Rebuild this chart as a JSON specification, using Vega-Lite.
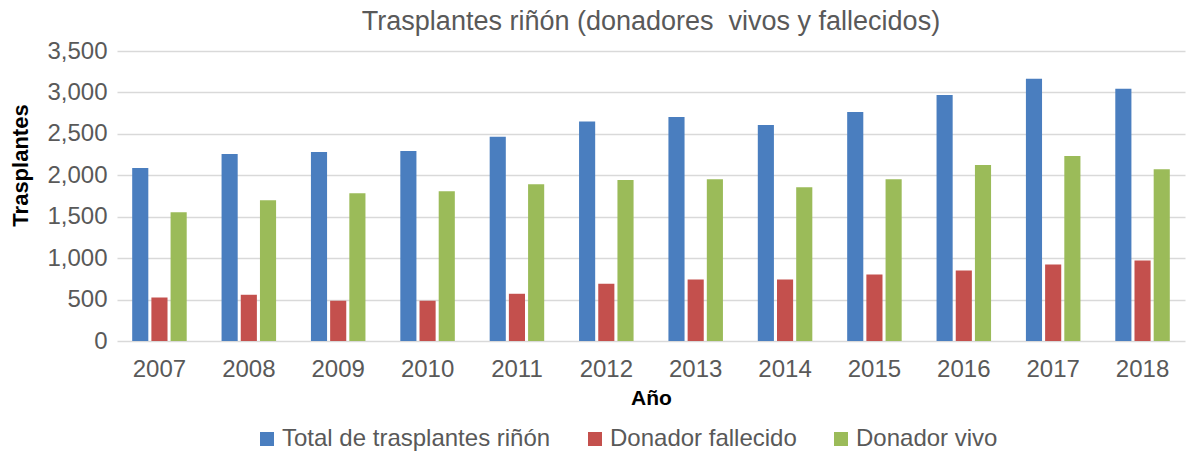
{
  "$schema": "https://vega.github.io/schema/vega-lite/v6.json",
  "width": 1068,
  "height": 290,
  "autosize": "none",
  "padding": {"left": 117, "top": 51, "right": 7, "bottom": 111},
  "background": "white",
  "title": {
    "text": "Trasplantes riñón (donadores\u00a0 vivos y fallecidos)",
    "font": "Liberation Sans",
    "fontSize": 27,
    "fontWeight": "normal",
    "color": "#595959",
    "anchor": "middle",
    "offset": 3
  },
  "config": {
    "view": {"stroke": null},
    "font": "Liberation Sans"
  },
  "data": {
    "values": [
      {"year": "2007", "serie": "Total de trasplantes riñón", "value": 2087},
      {"year": "2007", "serie": "Donador fallecido", "value": 525},
      {"year": "2007", "serie": "Donador vivo", "value": 1555},
      {"year": "2008", "serie": "Total de trasplantes riñón", "value": 2257},
      {"year": "2008", "serie": "Donador fallecido", "value": 558},
      {"year": "2008", "serie": "Donador vivo", "value": 1699},
      {"year": "2009", "serie": "Total de trasplantes riñón", "value": 2282},
      {"year": "2009", "serie": "Donador fallecido", "value": 486},
      {"year": "2009", "serie": "Donador vivo", "value": 1784},
      {"year": "2010", "serie": "Total de trasplantes riñón", "value": 2294},
      {"year": "2010", "serie": "Donador fallecido", "value": 486},
      {"year": "2010", "serie": "Donador vivo", "value": 1808},
      {"year": "2011", "serie": "Total de trasplantes riñón", "value": 2464},
      {"year": "2011", "serie": "Donador fallecido", "value": 570},
      {"year": "2011", "serie": "Donador vivo", "value": 1893},
      {"year": "2012", "serie": "Total de trasplantes riñón", "value": 2649},
      {"year": "2012", "serie": "Donador fallecido", "value": 692},
      {"year": "2012", "serie": "Donador vivo", "value": 1942},
      {"year": "2013", "serie": "Total de trasplantes riñón", "value": 2704},
      {"year": "2013", "serie": "Donador fallecido", "value": 742},
      {"year": "2013", "serie": "Donador vivo", "value": 1953},
      {"year": "2014", "serie": "Total de trasplantes riñón", "value": 2607},
      {"year": "2014", "serie": "Donador fallecido", "value": 742},
      {"year": "2014", "serie": "Donador vivo", "value": 1856},
      {"year": "2015", "serie": "Total de trasplantes riñón", "value": 2764},
      {"year": "2015", "serie": "Donador fallecido", "value": 803},
      {"year": "2015", "serie": "Donador vivo", "value": 1953},
      {"year": "2016", "serie": "Total de trasplantes riñón", "value": 2970},
      {"year": "2016", "serie": "Donador fallecido", "value": 851},
      {"year": "2016", "serie": "Donador vivo", "value": 2123},
      {"year": "2017", "serie": "Total de trasplantes riñón", "value": 3164},
      {"year": "2017", "serie": "Donador fallecido", "value": 924},
      {"year": "2017", "serie": "Donador vivo", "value": 2232},
      {"year": "2018", "serie": "Total de trasplantes riñón", "value": 3043},
      {"year": "2018", "serie": "Donador fallecido", "value": 973},
      {"year": "2018", "serie": "Donador vivo", "value": 2074}
    ]
  },
  "mark": {"type": "bar"},
  "encoding": {
    "x": {
      "field": "year",
      "type": "nominal",
      "scale": {"paddingInner": 0.39, "paddingOuter": 0.17},
      "axis": {
        "title": "Año",
        "titleFont": "Liberation Sans",
        "titleFontSize": 21,
        "titleFontWeight": "bold",
        "titleColor": "#000000",
        "titlePadding": 6,
        "labelAngle": 0,
        "labelFontSize": 24,
        "labelColor": "#595959",
        "labelPadding": 16,
        "ticks": false,
        "domain": false,
        "grid": false
      }
    },
    "xOffset": {
      "field": "serie",
      "type": "nominal",
      "sort": ["Total de trasplantes riñón", "Donador fallecido", "Donador vivo"],
      "scale": {"paddingInner": 0.16, "paddingOuter": 0}
    },
    "y": {
      "field": "value",
      "type": "quantitative",
      "scale": {"domain": [0, 3500], "nice": false},
      "axis": {
        "title": "Trasplantes",
        "titleFont": "Liberation Sans",
        "titleFontSize": 22,
        "titleFontWeight": "bold",
        "titleColor": "#000000",
        "titlePadding": 14,
        "titleY": 114,
        "values": [0, 500, 1000, 1500, 2000, 2500, 3000, 3500],
        "format": ",d",
        "labelFontSize": 24,
        "labelColor": "#595959",
        "labelPadding": 10,
        "ticks": false,
        "domain": false,
        "grid": true,
        "gridColor": "#d9d9d9",
        "gridWidth": 1.5
      }
    },
    "color": {
      "field": "serie",
      "type": "nominal",
      "sort": ["Total de trasplantes riñón", "Donador fallecido", "Donador vivo"],
      "scale": {
        "domain": ["Total de trasplantes riñón", "Donador fallecido", "Donador vivo"],
        "range": ["#4a7ebf", "#c4504d", "#9bbb59"]
      },
      "legend": {
        "title": null,
        "orient": "none",
        "legendX": 138,
        "legendY": 376,
        "direction": "horizontal",
        "symbolType": "square",
        "symbolSize": 196,
        "symbolStrokeWidth": 0,
        "labelFontSize": 24,
        "labelColor": "#595959",
        "labelOffset": 3,
        "labelLimit": 500,
        "columnPadding": 32
      }
    }
  }
}
